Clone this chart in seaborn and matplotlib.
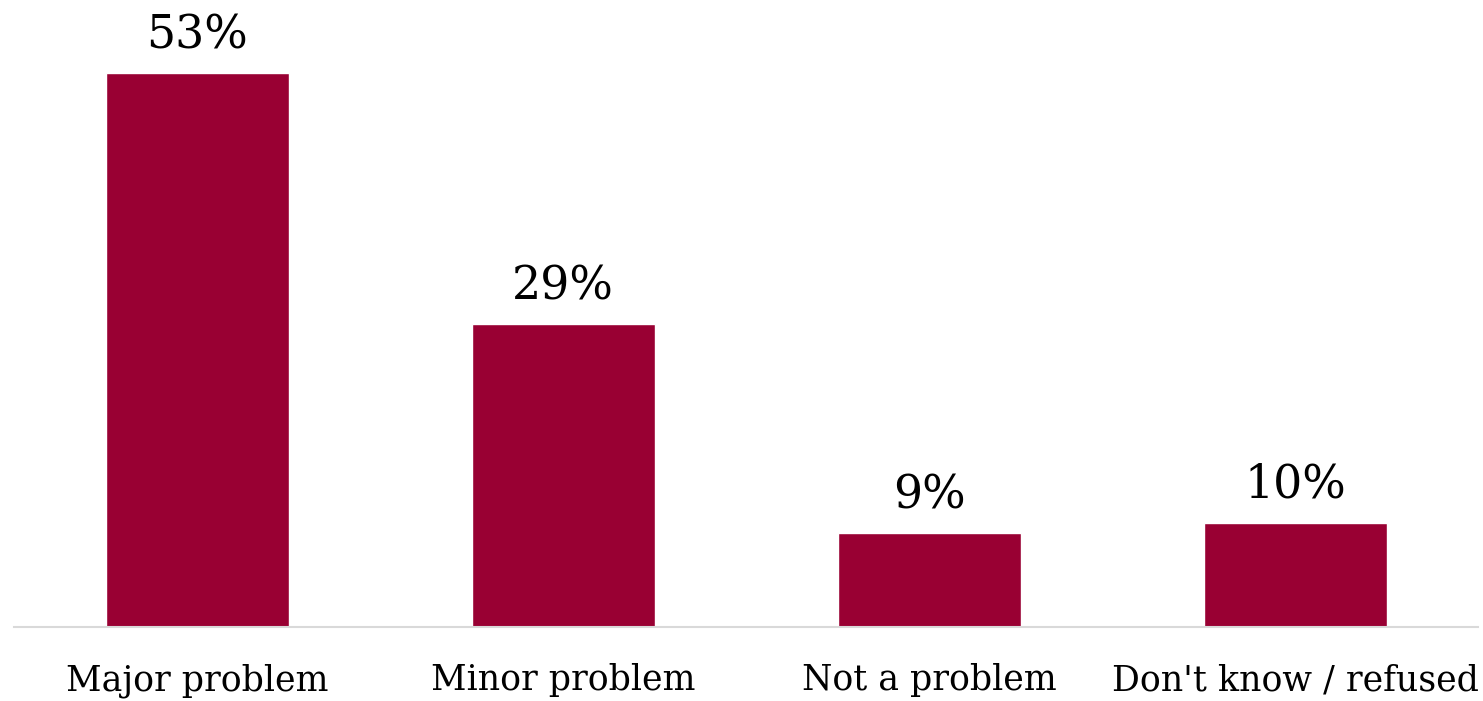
import matplotlib
matplotlib.use("Agg")
import matplotlib.pyplot as plt
import seaborn as sns
import pandas as pd

categories = ["Major problem", "Minor problem", "Not a problem", "Don't know / refused"]
values = [53, 29, 9, 10]
labels = ["53%", "29%", "9%", "10%"]

sns.set_theme(style="white")
plt.rcParams['font.family'] = ['DejaVu Serif']

df = pd.DataFrame({"category": categories, "value": values})

fig = plt.figure(figsize=(14.83, 7.01), dpi=100)
ax = fig.add_axes([14/1483, (701-627)/701, 1464/1483, 627/701])
sns.barplot(data=df, x="category", y="value", color="#990033", saturation=1,
            width=0.5, ax=ax)
ax.set_xlim(-0.5, 3.5)
ax.set_ylim(0, 60)
for p, lab in zip(ax.patches, labels):
    ax.text(p.get_x() + p.get_width()/2, p.get_height() + 1.4, lab,
            ha="center", va="bottom", fontsize=33, color="black")
ax.set_xlabel("")
ax.set_ylabel("")
ax.set_yticks([])
ax.tick_params(axis="x", length=0, labelsize=25, pad=26, colors="black")
for s in ["top", "right", "left"]:
    ax.spines[s].set_visible(False)
ax.spines["bottom"].set_color("#d9d9d9")
ax.spines["bottom"].set_linewidth(1.5)
fig.savefig("out.png", dpi=100, facecolor="white")
